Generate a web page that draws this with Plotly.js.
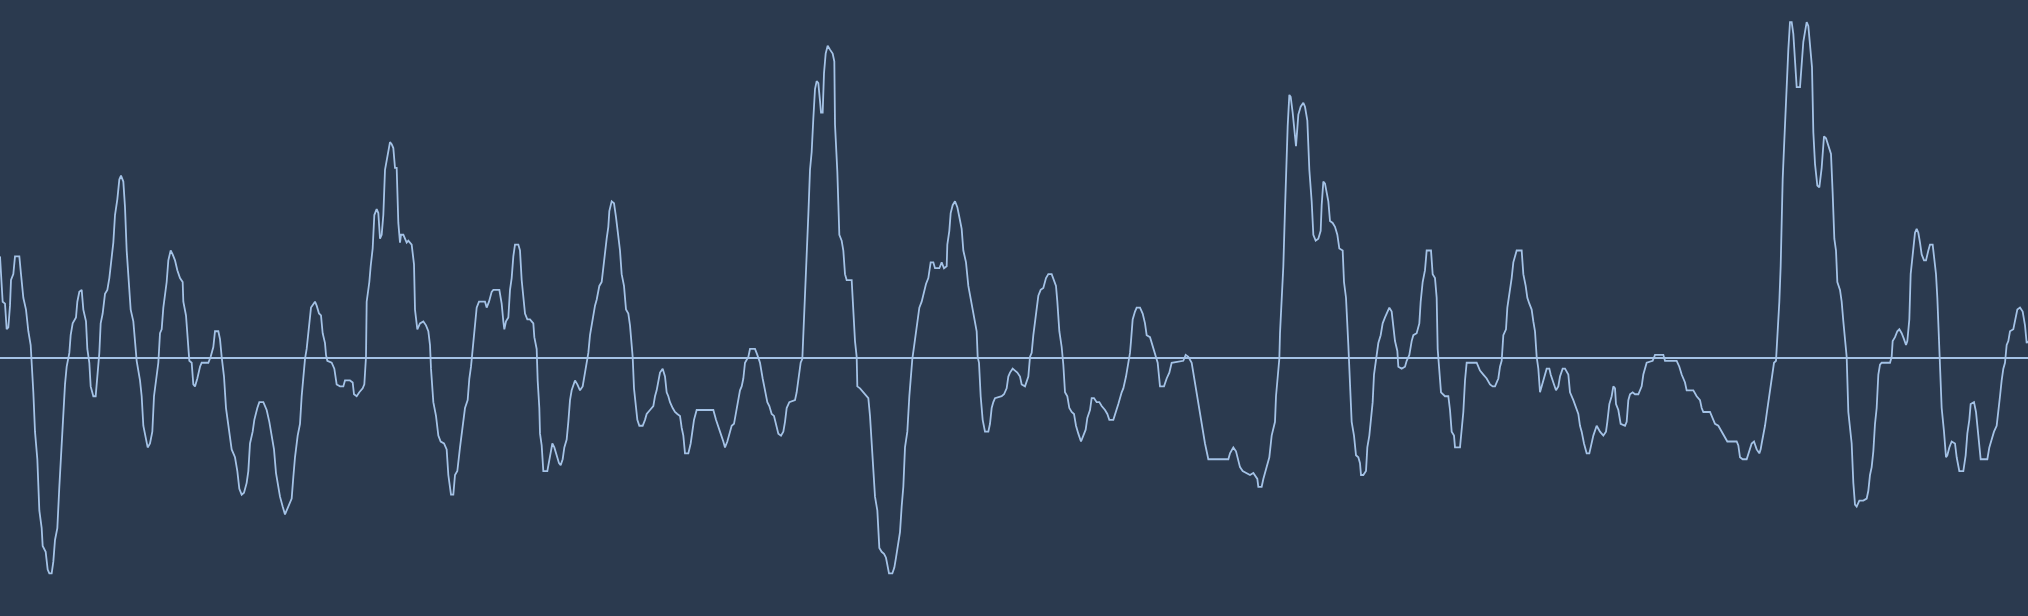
<!DOCTYPE html>
<html>
<head>
<meta charset="utf-8">
<script src="https://cdn.plot.ly/plotly-3.0.1.min.js"></script>
<style>
  html, body { margin: 0; padding: 0; background: #2b3a4f; }
  #chart { width: 2028px; height: 616px; }
</style>
</head>
<body>
<div id="chart"></div>
<script>
// Sample positions (time axis) and amplitude values
const timeA = [0,8,15,20,25,30,33,40,45,58,63,70,78,85,92,95,100,105,112,118,125,128,137,143,148,155,160,165,172,178,185,190,195,200,208,212,218,228,232,238,245,250,258,262,268,272,280,287,292,298,302,308,315,322,328,335,340,345,352,358,363,370,375,380,385,392,400,405,410,420,425,430,437,443,450,457,462,470,475,480,485,490,495,500,505,512,518,525,532,540,548,550,558,563,568,575,580,585,592,600,605,625,632,640,645,655,660,665,672,678,685,690,695,705,712,718,725,732,740,745,750,758,763,772,778,790,800,808,815,822,828,835,840,848,855,860,868,875,880,885,893,900,905,910,915,920,928,933,945,950,957,963,968,975,978,982,995,1003,1010];
const ampA = [258,143,138,73,78,133,198,213,258,258,213,153,123,68,33,-7,-87,-187,-257,-387,-432,-477,-492,-537,-547,-547,-517,-462,-432,-327,-212,-152,-67,-22,13,58,88,103,143,168,173,123,93,23,-12,-72,-97,-97,-52,13,88,113,163,173,203,253,293,363,403,453,463,448,383,273,208,123,93,33,-7,-57,-97,-172,-207,-227,-217,-187,-97,-52,-12,63,73,128,163,193,248,273,263,248,223,203,193,143,108,53,-7,-12,-67,-72,-52,-22,-12,-12,3,28,68,68,48,3,-47,-127,-167,-197,-232,-252,-287,-332,-347,-342,-317,-287,-217,-187,-157,-127,-112,-112,-132,-162,-197,-232,-292,-332,-352,-377,-397,-387,-372,-357,-302,-252,-197,-167,-97,-37,-2,23,93,128,143,133,113,108,63,38,8,-7,-12,-27,-67];

const timeB = [1020,1030,1035,1050,1058,1062,1070,1078,1088,1093,1098,1100,1108,1112,1118,1123,1130,1135,1140,1145,1150,1155,1163,1170,1175,1180,1185,1190,1195,1200,1203,1210,1215,1220,1225,1235,1242,1245,1252,1260,1270,1278,1285,1290,1293,1300,1308,1315,1322,1332,1340,1345,1353,1360,1365,1372,1380,1388,1395,1403,1408,1413,1418,1425,1430,1437,1455,1460,1467,1475,1480,1498,1505,1510,1513,1518,1525,1530,1535,1540,1545,1555,1560,1565,1570,1575,1582,1590,1600,1603,1610,1613,1618,1620,1625,1630,1642,1650,1657,1663,1670,1677,1682,1688,1693,1700,1705,1710,1715,1725,1732,1740,1748,1755,1760,1765,1770,1775,1780,1785,1790,1798,1805,1810,1815,1820,1825,1828,1835,1842,1848,1855,1860,1865,1872,1878,1885,1890,1895,1898,1902,1908,1912,1918,1928,1935,1940,1950,1960,1965,1970,1980,1988,1995,2000,2005,2010,2018,2025,2032];
const ampB = [-72,-72,-57,-57,-62,-92,-97,-87,-77,-67,3,143,193,233,278,363,378,368,303,313,363,478,518,548,543,533,483,483,343,293,313,313,303,293,298,288,238,123,73,88,93,83,68,33,-27,-112,-147,-197,-212,-217,-232,-297,-347,-347,-297,-287,-227,-172,-127,-107,-52,-22,23,83,128,143,143,128,143,168,173,173,138,93,73,93,103,173,203,258,288,288,273,198,153,113,98,98,88,53,23,-57,-127,-192,-222,-287,-287,-247,-217,-227,-247,-267,-272,-257,-227,-207,-162,-107,-82,-57,-67,-82,-72,-37,-7,13,58,83,113,133,148,183,193,233,268,303,333,373,398,393,358,313,273,213,183,123,113,83,43,3,-77,-117,-157,-172,-172,-157,-142,-132,-122,-97,-82,-37,-27,-47,-87,-97,-112,-127,-137,-142];

const timeC = [2040,2045,2050,2055,2065,2072,2078,2082,2090,2140,2148,2155,2162,2170,2175,2182,2190,2195,2202,2208,2215,2220,2225,2230,2235,2245,2250,2265,2272,2280,2288,2295,2302,2308,2315,2322,2328,2335,2343,2350,2355,2360,2368,2385,2390,2395,2402,2407,2410,2415,2420,2425,2430,2435,2440,2445,2450,2455,2460,2463,2468,2472,2477,2483,2490,2498,2503,2505,2512,2518,2525,2530,2535,2540,2555,2560,2565,2570,2572,2580,2590,2605,2610,2615,2620,2625,2632,2638,2645,2652,2658,2662,2667,2677,2683,2688,2693,2700,2705,2710,2715,2722,2728,2732,2737,2742,2748,2752,2758,2765,2770,2778,2785,2792,2800,2805,2818,2825,2832,2840,2842,2848,2852,2858,2865,2872,2878,2885,2890,2898,2905,2912,2918,2925,2930,2933,2937,2942,2948,2955,2965,2970,2975,2980,2985,3005,3012,3020,3025,3030,3038,3045,3052];
const ampC = [-147,-177,-197,-242,-242,-217,-177,-157,-132,-132,-157,-177,-192,-212,-227,-212,-187,-172,-167,-137,-112,-82,-72,-52,-12,3,23,23,8,-12,-52,-82,-112,-122,-142,-147,-167,-192,-197,-187,-162,-127,-112,-107,-87,-52,-12,-2,58,133,263,363,478,523,608,683,703,698,653,623,623,723,773,793,783,773,753,593,473,313,298,273,213,198,198,113,43,3,-72,-77,-87,-102,-147,-217,-262,-352,-387,-482,-492,-497,-507,-522,-547,-547,-532,-507,-477,-442,-377,-327,-227,-187,-97,-52,-2,28,63,93,128,143,163,188,203,243,243,228,228,243,228,233,288,323,368,388,398,383,358,328,273,243,183,153,123,93,68,3,-12,-97,-157,-187,-187,-167,-127,-112,-102,-97,-92,-77,-47,-37,-27,-32,-37];

const timeD = [3060,3065,3075,3080,3085,3090,3095,3100,3105,3110,3115,3122,3130,3138,3145,3155,3160,3168,3172,3178,3185,3190,3195,3202,3208,3215,3222,3228,3235,3243,3250,3257,3262,3270,3275,3282,3290,3298,3305,3315,3322,3328,3340,3348,3355,3365,3370,3378,3385,3390,3393,3398,3405,3410,3420,3428,3435,3440,3450,3460,3468,3473,3480,3492,3500,3508,3515,3550,3557,3565,3575,3580,3585,3590,3598,3605,3610,3615,3625,3685,3690,3700,3708,3715,3720,3728,3740,3750,3760,3768,3772,3775,3785,3790,3800,3808,3815,3825,3828,3832,3838,3840,3845,3850,3855,3860,3863,3868,3872,3878,3882,3888,3892,3895,3902,3910,3915,3922,3928,3935,3940,3947,3955,3962,3965,3970,3975,3980,3985,3990,3998,4005,4012,4018,4028,4032,4038,4045,4050,4055,4062,4068,4075];
const ampD = [-47,-67,-72,-57,-47,3,13,58,88,128,158,173,178,203,213,213,203,183,143,68,28,-17,-87,-97,-127,-137,-142,-172,-192,-212,-197,-182,-152,-132,-102,-102,-112,-112,-122,-132,-142,-157,-157,-132,-117,-87,-77,-47,-12,13,43,98,118,128,128,113,88,58,53,23,3,-12,-72,-72,-52,-37,-12,-7,8,3,-12,-37,-62,-97,-127,-162,-192,-217,-257,-257,-242,-227,-237,-257,-277,-287,-292,-297,-292,-302,-307,-327,-327,-307,-277,-252,-197,-162,-97,-52,-2,63,143,233,378,523,588,668,663,623,583,538,583,618,638,648,638,603,478,398,313,298,303,323,388,448,443,423,398,348,343,333,313,278,273,193,153,33,-57,-162,-197,-247,-252];

const timeE = [4080,4083,4090,4098,4102,4108,4112,4118,4122,4128,4135,4142,4148,4155,4162,4168,4175,4180,4185,4192,4195,4205,4215,4220,4228,4235,4240,4250,4258,4262,4268,4275,4280,4293,4298,4305,4310,4313,4318,4323,4335,4345,4350,4355,4362,4365,4380,4385,4390,4395,4400,4430,4435,4440,4450,4460,4470,4478,4485,4490,4495,4500,4505,4510,4518,4522,4528,4535,4540,4550,4565,4570,4577,4582,4588,4595,4600,4605,4610,4615,4620,4625,4630,4635,4640,4648,4652,4660,4668,4675,4680,4688,4695,4705,4710,4720,4728,4735,4740,4745,4752,4760,4768,4775,4780,4790,4800,4810,4818,4822,4828,4835,4840,4845,4848,4855,4862,4875,4880,4885,4890,4898,4905,4915,4920,4925,4930,4935,4940,4958,4965,4990,4995,5030,5038,5045,5055,5060,5080,5090];
const ampE = [-267,-297,-297,-287,-227,-197,-157,-112,-42,-2,38,58,88,103,118,128,118,83,43,18,-22,-27,-22,-7,8,43,58,63,88,143,193,223,273,273,213,203,153,23,-42,-87,-97,-97,-132,-187,-197,-227,-227,-187,-137,-57,-12,-12,-22,-32,-42,-52,-67,-72,-72,-62,-52,-22,-7,58,73,128,158,203,243,273,273,213,183,153,138,123,93,68,3,-27,-87,-72,-52,-42,-27,-27,-42,-62,-82,-72,-47,-27,-27,-42,-87,-107,-127,-142,-172,-187,-217,-242,-242,-212,-197,-172,-187,-197,-187,-162,-117,-97,-72,-77,-117,-132,-167,-172,-162,-107,-92,-87,-92,-92,-82,-72,-42,-27,-12,-7,8,8,-7,-7,-22,-42,-62,-82,-82,-97];

const timeF = [5100,5105,5110,5130,5138,5145,5155,5165,5175,5182,5210,5215,5220,5228,5240,5248,5255,5262,5270,5278,5282,5285,5290,5295,5300,5305,5310,5315,5318,5322,5328,5332,5338,5342,5345,5348,5353,5360,5365,5370,5375,5380,5385,5390,5400,5405,5410,5415,5420,5425,5430,5436,5440,5445,5452,5458,5465,5472,5478,5485,5493,5498,5503,5508,5512,5520,5525,5530,5535,5540,5545,5555,5560,5565,5570,5578,5590,5600,5605,5610,5615,5620,5625,5630,5635,5640,5645,5670,5675,5678,5685,5692,5698,5705,5712,5718,5722,5728,5732,5738,5745,5750,5755,5760,5765,5772,5778,5785,5790,5798,5803,5808,5812,5815,5818,5820,5825,5832,5838,5842,5848,5855,5865,5870,5878,5890,5897,5902,5908,5912,5922,5928,5935,5942,5962,5968,5975,5982,5990,5995,6000,6005,6010,6015,6020,6025,6030,6040,6045,6052,6060,6068,6075,6080,6084];
const ampF = [-107,-127,-137,-137,-152,-167,-172,-187,-202,-212,-212,-222,-252,-257,-257,-237,-217,-212,-232,-242,-232,-217,-197,-172,-142,-112,-87,-52,-27,-12,-7,43,143,233,353,453,553,708,783,853,853,823,763,688,688,743,803,828,853,843,803,738,573,493,438,433,483,563,558,538,518,418,303,273,193,173,143,93,53,3,-137,-217,-317,-372,-377,-362,-362,-357,-337,-297,-277,-237,-167,-127,-42,-17,-12,-12,3,43,53,68,73,63,48,33,43,98,213,263,318,328,318,293,263,248,248,273,288,288,253,213,153,83,3,-57,-127,-187,-252,-247,-227,-212,-217,-252,-287,-287,-247,-192,-157,-117,-112,-137,-197,-257,-257,-227,-207,-187,-172,-127,-97,-57,-27,-12,33,43,68,73,98,123,128,118,83,38,43];

const time = [].concat(timeA, timeB, timeC, timeD, timeE, timeF);
const amplitude = [].concat(ampA, ampB, ampC, ampD, ampE, ampF);

const lineColor = '#a4c2e6';
const bg = '#2b3a4f';

Plotly.newPlot('chart', [{
  x: time,
  y: amplitude,
  type: 'scatter',
  mode: 'lines',
  line: { color: lineColor, width: 1.8, shape: 'linear' },
  hoverinfo: 'skip'
}], {
  width: 2028,
  height: 616,
  margin: { l: 0, r: 0, t: 0, b: 0, pad: 0 },
  paper_bgcolor: bg,
  plot_bgcolor: bg,
  showlegend: false,
  xaxis: { range: [0, 6084], showgrid: false, zeroline: false, showticklabels: false, showline: false, ticks: '' },
  yaxis: { range: [-655, 909], showgrid: false, zeroline: true, zerolinecolor: lineColor, zerolinewidth: 2, showticklabels: false, showline: false, ticks: '' }
}, { staticPlot: true, displayModeBar: false });
</script>
</body>
</html>
